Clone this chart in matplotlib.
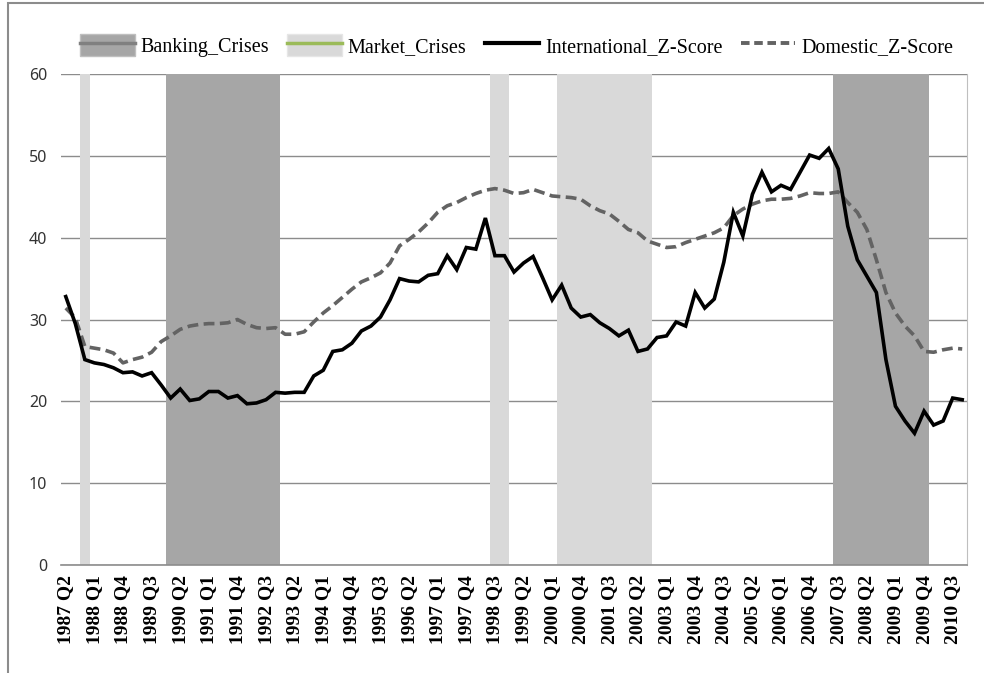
import matplotlib
matplotlib.use("Agg")
import matplotlib.pyplot as plt
from matplotlib.patches import Patch, Rectangle
from matplotlib.lines import Line2D
import numpy as np

# quarterly axis, 1987 Q2 .. 2010 Q4
quarters = []
for yr in range(1987, 2011):
    for q in range(1, 5):
        if yr == 1987 and q < 2:
            continue
        quarters.append("%d Q%d" % (yr, q))

international_z = [
    32.8, 29.5, 25.1, 24.7, 24.5, 24.1, 23.5, 23.6, 23.1, 23.5,
    22.0, 20.4, 21.5, 20.1, 20.3, 21.2, 21.2, 20.4, 20.7, 19.7,
    19.8, 20.2, 21.1, 21.0, 21.1, 21.1, 23.1, 23.8, 26.1, 26.3,
    27.1, 28.6, 29.2, 30.3, 32.4, 35.0, 34.7, 34.6, 35.4, 35.6,
    37.8, 36.1, 38.8, 38.6, 42.4, 37.8, 37.8, 35.8, 36.9, 37.7,
    35.1, 32.4, 34.2, 31.4, 30.3, 30.6, 29.6, 28.9, 28.0, 28.7,
    26.1, 26.4, 27.8, 28.0, 29.7, 29.2, 33.3, 31.4, 32.5, 37.0,
    43.1, 40.2, 45.3, 48.0, 45.6, 46.4, 45.9, 48.0, 50.1, 49.7,
    50.9, 48.4, 41.4, 37.3, 35.3, 33.3, 25.1, 19.4, 17.6, 16.1,
    18.8, 17.1, 17.6, 20.4, 20.2,
]

domestic_z = [
    31.4, 30.2, 26.7, 26.5, 26.3, 25.9, 24.7, 25.1, 25.4, 26.0,
    27.3, 28.0, 28.8, 29.2, 29.4, 29.5, 29.5, 29.6, 30.0, 29.4,
    29.0, 28.9, 29.0, 28.2, 28.2, 28.5, 29.7, 30.8, 31.7, 32.7,
    33.7, 34.6, 35.1, 35.7, 36.9, 39.0, 39.8, 40.7, 41.8, 43.1,
    43.9, 44.3, 44.9, 45.4, 45.8, 46.0, 45.8, 45.4, 45.5, 45.9,
    45.5, 45.1, 45.0, 44.9, 44.7, 43.9, 43.3, 42.9, 42.0, 41.0,
    40.6, 39.6, 39.2, 38.8, 38.9, 39.4, 39.8, 40.2, 40.6, 41.2,
    42.7, 43.5, 44.1, 44.5, 44.7, 44.7, 44.8, 45.1, 45.5, 45.4,
    45.4, 45.6, 44.3, 43.1, 41.0, 37.3, 33.3, 30.8, 29.2, 28.0,
    26.1, 26.0, 26.3, 26.5, 26.4,
]

# crisis periods (first quarter, last quarter)
banking_crises = [("1990 Q1", "1992 Q4"), ("2007 Q3", "2009 Q4")]
market_crises = [("1987 Q4", "1987 Q4"), ("1998 Q3", "1998 Q4"), ("2000 Q2", "2002 Q3")]
crisis_height = 60


def crisis_quarters(periods):
    idx = []
    for start, end in periods:
        idx += list(range(quarters.index(start), quarters.index(end) + 1))
    return idx


x = np.arange(len(quarters))
bank_idx = crisis_quarters(banking_crises)
market_idx = crisis_quarters(market_crises)

fig = plt.figure(figsize=(9.84, 6.73), dpi=100)
ax = fig.add_axes([0.062, 0.1605, 0.9207, 0.7295])

ax.bar(bank_idx, [crisis_height] * len(bank_idx), width=1.0, color="#a6a6a6", zorder=2, linewidth=0)
ax.bar(market_idx, [crisis_height] * len(market_idx), width=1.0, color="#d9d9d9", zorder=2, linewidth=0)

ax.plot(x, international_z, color="black", lw=2.6, zorder=4, solid_joinstyle="miter")
ax.plot(x, domestic_z, color="#636363", lw=2.6, ls=(0, (3, 1.5)), zorder=3)

ax.set_xlim(-0.5, len(quarters) - 0.5)
ax.set_ylim(0, 60)
ax.set_yticks(range(0, 61, 10))
ax.yaxis.grid(True, color="#8c8c8c", lw=1.0, zorder=1)
ax.set_axisbelow(True)

ax.set_xticks(x[::3])
ax.set_xticklabels(quarters[::3], rotation=90, family="Liberation Serif",
                   fontweight="bold", fontsize=14)
for lab in ax.get_yticklabels():
    lab.set_family("Noto Sans")
    lab.set_fontsize(11.5)
    lab.set_color("#333333")
ax.tick_params(axis="both", length=0)
ax.tick_params(axis="y", pad=10)
ax.tick_params(axis="x", pad=7)

for side in ["left", "top"]:
    ax.spines[side].set_visible(False)
ax.spines["right"].set_color("#bfbfbf")
ax.spines["bottom"].set_color("#8c8c8c")
ax.spines["bottom"].set_linewidth(1.2)

handles = [
    (Patch(facecolor="#a6a6a6", edgecolor="#bfbfbf"), Line2D([], [], color="#808080", lw=2.5)),
    (Patch(facecolor="#d9d9d9", edgecolor="#e6e6e6"), Line2D([], [], color="#9bbb59", lw=2.5)),
    Line2D([], [], color="black", lw=3),
    Line2D([], [], color="#636363", lw=2.8, ls=(0, (2.2, 1.2))),
]
labels = ["Banking_Crises", "Market_Crises", "International_Z-Score", "Domestic_Z-Score"]
fig.legend(handles, labels, loc="center", bbox_to_anchor=(0.525, 0.932), ncol=4,
           frameon=False, prop={"family": "Liberation Serif", "size": 14.5},
           handlelength=2.7, handleheight=1.3, handletextpad=0.3, columnspacing=0.9)

# chart area border (top and left edges visible)
fig.patches.append(Rectangle((0.008, -0.1), 1.2, 1.095, transform=fig.transFigure,
                             fill=False, edgecolor="#8c8c8c", lw=1.5))

fig.savefig("out.png", dpi=100)
